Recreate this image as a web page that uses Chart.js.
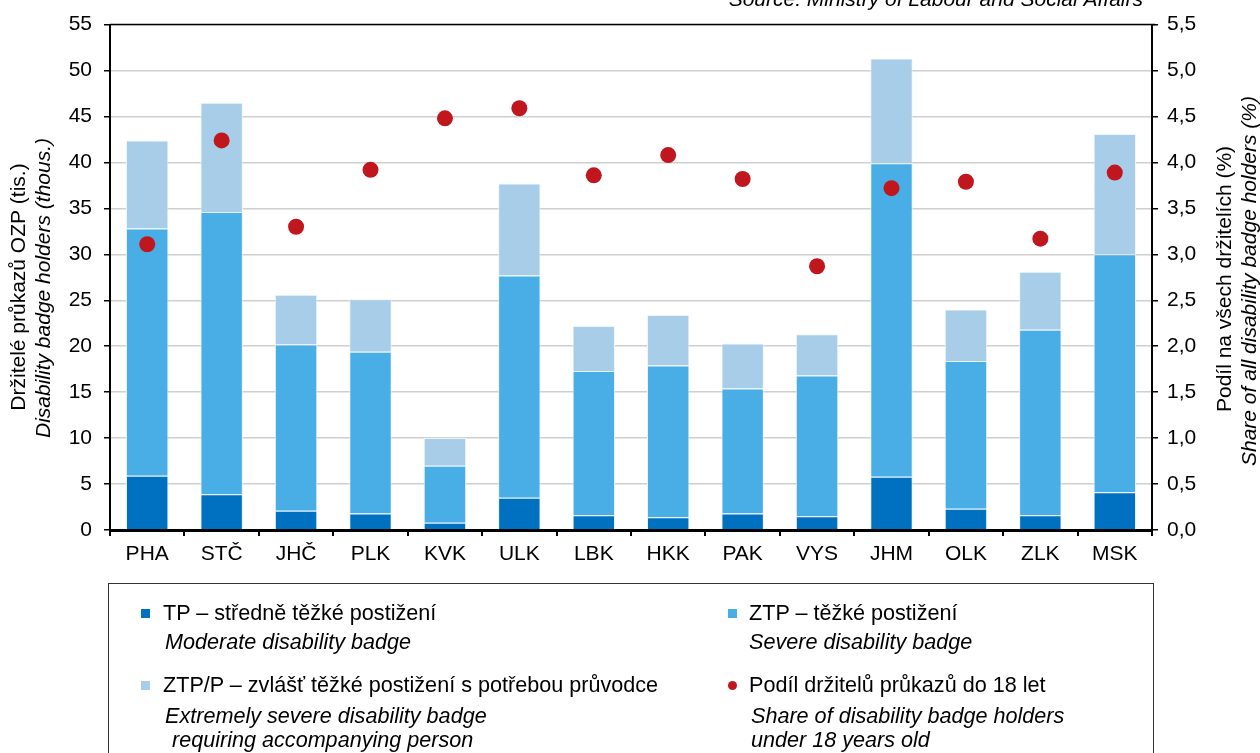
<!DOCTYPE html>
<html lang="cs">
<head>
<meta charset="UTF-8">
<title>Držitelé průkazů OZP podle krajů</title>
<script src="https://cdn.jsdelivr.net/npm/chart.js"></script>
<style>
    body { margin: 0; background: #fff; font-family: 'Liberation Sans', Arial, sans-serif; }
    .wrap { position: relative; width: 1260px; height: 753px; overflow: hidden; }
    #chart { position: absolute; left: 0; top: 0; }
    .legend-box {
        position: absolute; left: 108px; top: 583px; width: 1046px; height: 200px;
        border: 1px solid #333; box-sizing: border-box;
    }
    .lg { position: absolute; font-size: 21.6px; color: #000; white-space: nowrap; line-height: 24px; }
    .lg i { font-style: italic; }
    .mk { position: absolute; width: 9px; height: 9px; }
</style>
</head>
<body>
<div class="wrap">
    <canvas id="chart" width="1260" height="753"></canvas>
    <div class="legend-box"></div>
    <!-- legenda -->
    <div class="mk" style="left:141px;top:609px;background:#0070C0"></div>
    <div class="lg" style="left:163px;top:601px">TP – středně těžké postižení</div>
    <div class="lg" style="left:165px;top:630px"><i>Moderate disability badge</i></div>

    <div class="mk" style="left:728px;top:609px;background:#49AEE6"></div>
    <div class="lg" style="left:749px;top:601px">ZTP – těžké postižení</div>
    <div class="lg" style="left:749px;top:630px"><i>Severe disability badge</i></div>

    <div class="mk" style="left:141px;top:681px;background:#A8CDE8"></div>
    <div class="lg" style="left:163px;top:673px">ZTP/P – zvlášť těžké postižení s potřebou průvodce</div>
    <div class="lg" style="left:165px;top:704px"><i>Extremely severe disability badge</i></div>
    <div class="lg" style="left:172px;top:728px"><i>requiring accompanying person</i></div>

    <div class="mk" style="left:728px;top:681px;background:#C0171F;border-radius:50%"></div>
    <div class="lg" style="left:749px;top:673px">Podíl držitelů průkazů do 18 let</div>
    <div class="lg" style="left:751px;top:704px"><i>Share of disability badge holders</i></div>
    <div class="lg" style="left:751px;top:728px"><i>under 18 years old</i></div>
</div>

<script>
// kraje
const regions = ['PHA', 'STČ', 'JHČ', 'PLK', 'KVK', 'ULK', 'LBK', 'HKK', 'PAK', 'VYS', 'JHM', 'OLK', 'ZLK', 'MSK'];

// počty držitelů (tis.)
const tpValues   = [5.9, 3.9, 2.1, 1.8, 0.8, 3.5, 1.6, 1.4, 1.8, 1.5, 5.8, 2.3, 1.6, 4.1];
const ztpValues  = [26.9, 30.7, 18.1, 17.6, 6.2, 24.2, 15.7, 16.5, 13.6, 15.3, 34.1, 16.1, 20.2, 25.9];
const ztppValues = [9.6, 11.9, 5.4, 5.7, 3.0, 10.0, 4.9, 5.5, 4.9, 4.5, 11.4, 5.6, 6.3, 13.1];

// podíl držitelů do 18 let (%)
const shareUnder18 = [3.11, 4.24, 3.30, 3.92, 4.48, 4.59, 3.86, 4.08, 3.82, 2.87, 3.72, 3.79, 3.17, 3.89];

const FONT = "'Liberation Sans', Arial, sans-serif";

const extrasPlugin = {
    id: 'extras',
    afterDraw(chart) {
        const ctx = chart.ctx;
        const area = chart.chartArea;
        ctx.save();
        // horní linka
        ctx.strokeStyle = '#000';
        ctx.lineWidth = 1.5;
        ctx.beginPath();
        ctx.moveTo(area.left, area.top);
        ctx.lineTo(area.right + 3, area.top);
        ctx.stroke();

        // zdroj
        ctx.fillStyle = '#000';
        ctx.font = 'italic 21px ' + FONT;
        ctx.textAlign = 'right';
        ctx.textBaseline = 'alphabetic';
        ctx.fillText('Source: Ministry of Labour and Social Affairs', 1143, 6);

        // názvy os
        const drawRot = (text, x, y, font) => {
            ctx.save();
            ctx.translate(x, y);
            ctx.rotate(-Math.PI / 2);
            ctx.font = font;
            ctx.textAlign = 'center';
            ctx.textBaseline = 'middle';
            ctx.fillText(text, 0, 0);
            ctx.restore();
        };
        drawRot('Držitelé průkazů OZP (tis.)', 19, 287, '21px ' + FONT);
        drawRot('Disability badge holders (thous.)', 44, 288, 'italic 21px ' + FONT);
        drawRot('Podíl na všech držitelích (%)', 1225, 279, '21px ' + FONT);
        drawRot('Share of all disability badge holders (%)', 1250, 281, 'italic 21px ' + FONT);
        ctx.restore();
    }
};

const ctx = document.getElementById('chart').getContext('2d');
new Chart(ctx, {
    data: {
        labels: regions,
        datasets: [
            {
                type: 'line',
                label: 'Podíl držitelů průkazů do 18 let',
                data: shareUnder18,
                yAxisID: 'y1',
                showLine: false,
                pointRadius: 8,
                pointBackgroundColor: '#C0171F',
                pointBorderWidth: 0,
                order: 0
            },
            {
                type: 'bar',
                label: 'TP',
                data: tpValues,
                backgroundColor: '#0070C0',
                borderColor: '#e6f1fa',
                borderWidth: 1,
                yAxisID: 'y',
                order: 1
            },
            {
                type: 'bar',
                label: 'ZTP',
                data: ztpValues,
                backgroundColor: '#49AEE6',
                borderColor: '#e6f1fa',
                borderWidth: 1,
                yAxisID: 'y',
                order: 1
            },
            {
                type: 'bar',
                label: 'ZTP/P',
                data: ztppValues,
                backgroundColor: '#A8CDE8',
                borderColor: '#eef6fc',
                borderWidth: 1,
                yAxisID: 'y',
                order: 1
            }
        ]
    },
    options: {
        responsive: false,
        animation: false,
        datasets: { bar: { categoryPercentage: 1, barPercentage: 0.57 } },
        layout: { padding: { left: 50, right: 0, top: 22, bottom: 180 } },
        plugins: { legend: { display: false }, tooltip: { enabled: false } },
        scales: {
            x: {
                stacked: true,
                afterFit: s => { s.height = 43; },
                grid: { drawOnChartArea: false, tickLength: 6, tickColor: '#000', lineWidth: 2 },
                border: { color: '#000', width: 3 },
                ticks: { color: '#000', font: { size: 21, family: FONT }, padding: 6 }
            },
            y: {
                stacked: true,
                position: 'left',
                min: 0, max: 55,
                afterFit: s => { s.width = 60; },
                grid: { color: '#cfcfcf', lineWidth: 1.5, tickLength: 6, tickColor: '#000' },
                border: { color: '#000', width: 2 },
                ticks: { stepSize: 5, color: '#000', font: { size: 21, family: FONT }, padding: 12 }
            },
            y1: {
                position: 'right',
                min: 0, max: 5.5,
                afterFit: s => { s.width = 108; },
                grid: { drawOnChartArea: false, tickLength: 6, tickColor: '#000', lineWidth: 1.5 },
                border: { color: '#000', width: 2 },
                ticks: {
                    stepSize: 0.5, color: '#000', font: { size: 21, family: FONT }, padding: 9,
                    callback: v => v.toFixed(1).replace('.', ',')
                }
            }
        }
    },
    plugins: [extrasPlugin]
});
</script>
</body>
</html>
